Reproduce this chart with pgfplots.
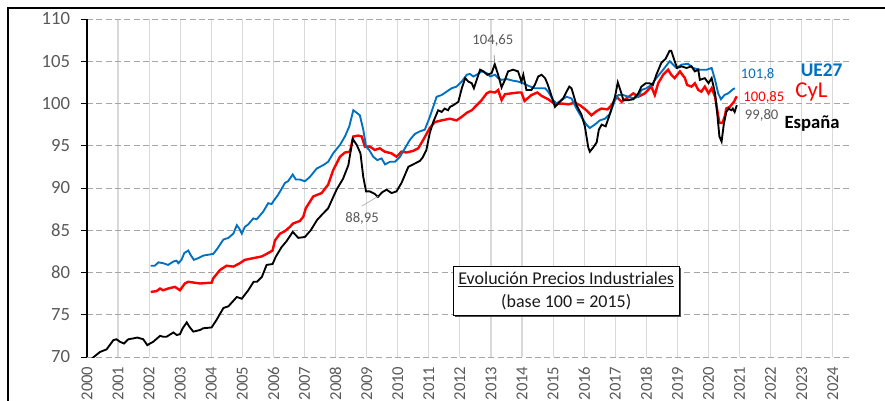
\documentclass[border=0pt]{standalone}
\usepackage{fontspec}
\setmainfont{Carlito}
\usepackage{pgfplots}
\pgfplotsset{compat=1.18}
\usetikzlibrary{shadows}
\definecolor{ueblue}{HTML}{0070C0}
\definecolor{cylred}{HTML}{FF0000}
\definecolor{txtgrey}{HTML}{595959}
\definecolor{gridgrey}{HTML}{A6A6A6}
\definecolor{vgrid}{HTML}{D9D9D9}
\begin{document}
\begin{tikzpicture}
\useasboundingbox (0,0) rectangle (663.75pt,300pt);
\draw[black, line width=0.9pt] (6pt,294pt) rectangle (700pt,-20pt);
\begin{axis}[
  at={(65.25pt,32.25pt)}, anchor=south west,
  width=571.5pt, height=253.5pt, scale only axis,
  xmin=2000, xmax=2024.52, ymin=70, ymax=110,
  xtick={2000,...,2024}, ytick={70,75,...,110},
  axis y line*=left, axis x line*=bottom,
  x axis line style={draw=none},
  y axis line style={black, line width=0.8pt},
  ymajorgrids, xmajorgrids,
  y grid style={gridgrey, dash pattern=on 4.5pt off 2.5pt, line width=0.75pt},
  x grid style={vgrid, line width=0.9pt},
  ytick style={black, line width=0.75pt},
  xtick style={draw=none},
  tick align=outside, major tick length=4.5pt,
  ticklabel style={text=txtgrey},
  /pgf/number format/assume math mode=true,
  /pgf/number format/1000 sep={},
  xticklabel style={font=\fontsize{12.5}{15}\selectfont, rotate=90, anchor=east, inner sep=0pt},
  yticklabel style={font=\fontsize{14}{16}\selectfont, anchor=east, inner sep=0pt, xshift=-8pt},
  xticklabel shift=2.5pt,
]
% CyL
\addplot[cylred, line width=1.8pt] coordinates {
(2002.05,77.7)(2002.24,77.8)(2002.35,78.1)(2002.45,77.9)(2002.61,78.1)(2002.83,78.3)(2002.99,77.9)
(2003.15,78.7)(2003.26,78.9)(2003.64,78.7)(2004.01,78.8)(2004.06,79.3)(2004.28,80.3)(2004.49,80.8)
(2004.71,80.7)(2004.92,81.1)(2005.08,81.5)(2005.35,81.7)(2005.62,81.9)(2005.78,82.2)(2005.97,82.6)
(2006.05,83.8)(2006.21,84.6)(2006.37,84.9)(2006.53,85.4)(2006.63,85.8)(2006.85,86.1)(2006.96,86.6)
(2007.04,87.6)(2007.28,89.0)(2007.55,89.4)(2007.76,90.4)(2007.92,92.1)(2008.14,93.7)(2008.30,94.2)
(2008.46,94.3)(2008.57,96.1)(2008.73,96.2)(2008.84,96.1)(2008.94,94.9)(2009.10,94.9)(2009.26,94.5)
(2009.42,94.7)(2009.58,94.3)(2009.80,94.1)(2009.96,93.7)(2010.12,94.3)(2010.28,94.2)(2010.50,94.4)
(2010.66,94.7)(2010.82,95.7)(2011.03,97.1)(2011.19,97.8)(2011.41,98.0)(2011.68,98.2)(2011.89,98.0)
(2012.05,98.4)(2012.22,98.9)(2012.38,99.2)(2012.54,99.8)(2012.70,100.4)(2012.86,101.2)(2012.97,101.4)
(2013.13,101.3)(2013.23,101.6)(2013.34,100.4)(2013.45,101.1)(2013.66,101.2)(2013.87,101.3)(2013.98,101.3)
(2014.08,100.3)(2014.30,101.0)(2014.49,101.3)(2014.63,100.9)(2014.84,100.5)(2015.06,99.9)(2015.27,100.0)
(2015.49,99.9)(2015.70,100.1)(2015.86,99.8)(2016.07,99.2)(2016.23,98.6)(2016.40,99.1)(2016.55,99.4)
(2016.75,99.3)(2016.90,99.9)(2017.04,100.8)(2017.20,100.2)(2017.36,100.6)(2017.58,101.2)(2017.74,100.8)
(2017.95,101.2)(2018.16,102.0)(2018.27,101.0)(2018.38,102.4)(2018.54,103.4)(2018.70,104.0)(2018.80,103.4)
(2018.91,103.0)(2019.08,103.8)(2019.24,103.0)(2019.31,102.2)(2019.45,102.0)(2019.56,102.4)(2019.67,101.6)
(2019.77,101.4)(2019.88,102.0)(2020.00,101.2)(2020.10,101.8)(2020.21,100.8)(2020.28,99.2)(2020.35,97.7)
(2020.45,97.7)(2020.53,98.6)(2020.57,99.4)(2020.68,99.6)(2020.77,100.0)(2020.82,100.2)(2020.87,100.6)
(2020.91,100.85)
};
% UE27
\addplot[ueblue, line width=1.4pt] coordinates {
(2002.05,80.8)(2002.18,80.8)(2002.30,81.2)(2002.45,81.1)(2002.61,80.9)(2002.78,81.3)(2002.88,81.4)
(2002.94,81.1)(2003.04,81.5)(2003.13,82.3)(2003.26,82.6)(2003.33,82.1)(2003.44,81.5)(2003.58,81.7)
(2003.74,82.0)(2003.90,82.1)(2004.06,82.2)(2004.17,82.7)(2004.39,83.9)(2004.55,84.1)(2004.71,84.6)
(2004.82,85.6)(2004.90,85.2)(2004.98,84.6)(2005.08,85.4)(2005.19,85.7)(2005.35,86.4)(2005.46,86.3)
(2005.67,87.2)(2005.83,88.2)(2005.94,88.1)(2006.01,88.5)(2006.15,89.2)(2006.37,90.6)(2006.47,90.8)
(2006.62,91.6)(2006.72,91.0)(2006.85,91.0)(2007.01,90.8)(2007.17,91.3)(2007.39,92.3)(2007.60,92.7)
(2007.76,93.1)(2007.92,94.1)(2008.14,95.1)(2008.30,96.1)(2008.44,97.3)(2008.57,99.2)(2008.68,98.9)
(2008.78,98.6)(2008.89,96.9)(2008.98,94.9)(2009.08,94.5)(2009.21,93.7)(2009.34,93.3)(2009.48,93.5)
(2009.59,92.8)(2009.75,93.1)(2009.91,93.1)(2010.07,93.7)(2010.23,94.7)(2010.39,95.7)(2010.55,96.4)
(2010.71,96.7)(2010.87,96.9)(2011.03,98.4)(2011.25,100.8)(2011.41,101.0)(2011.57,101.4)(2011.73,101.8)
(2011.89,102.0)(2012.06,102.6)(2012.22,103.4)(2012.32,103.5)(2012.43,103.2)(2012.54,103.4)(2012.70,103.8)
(2012.86,103.6)(2012.97,103.2)(2013.13,103.4)(2013.23,103.0)(2013.34,102.8)(2013.50,102.9)(2013.71,102.7)
(2013.87,102.6)(2014.03,102.4)(2014.20,102.1)(2014.41,101.8)(2014.74,101.8)(2014.84,101.4)(2015.00,100.4)
(2015.11,100.0)(2015.27,100.4)(2015.43,100.8)(2015.59,100.6)(2015.75,99.4)(2015.91,98.4)(2016.07,97.5)
(2016.18,97.1)(2016.34,97.5)(2016.50,98.0)(2016.67,98.2)(2016.83,98.8)(2016.99,100.4)(2017.10,101.0)
(2017.26,101.0)(2017.42,100.8)(2017.58,100.6)(2017.74,100.8)(2017.84,101.6)(2018.00,101.8)(2018.16,102.2)
(2018.32,103.0)(2018.54,104.0)(2018.75,105.0)(2018.86,104.6)(2018.97,104.2)(2019.13,104.6)(2019.34,104.7)
(2019.50,104.2)(2019.72,104.0)(2019.94,104.0)(2020.10,104.2)(2020.21,102.8)(2020.31,101.2)(2020.40,100.5)
(2020.51,101.0)(2020.63,101.2)(2020.79,101.7)(2020.85,101.8)
};
% Espana
\addplot[black, line width=1.4pt] coordinates {
(2000.00,69.3)(2000.15,69.8)(2000.42,70.6)(2000.63,70.9)(2000.85,72.0)(2000.95,72.1)(2001.06,71.8)
(2001.19,71.6)(2001.33,72.1)(2001.49,72.2)(2001.62,72.3)(2001.81,72.1)(2001.94,71.4)(2002.03,71.6)
(2002.13,71.8)(2002.35,72.5)(2002.45,72.4)(2002.56,72.4)(2002.78,72.9)(2002.89,72.6)(2002.99,72.7)
(2003.08,73.4)(2003.21,74.1)(2003.29,73.6)(2003.42,73.0)(2003.64,73.2)(2003.74,73.4)(2004.01,73.5)
(2004.17,74.4)(2004.39,75.8)(2004.55,76.0)(2004.82,77.1)(2004.98,76.9)(2005.19,77.9)(2005.36,78.9)
(2005.47,78.9)(2005.63,79.5)(2005.78,80.9)(2005.97,81.0)(2006.08,81.9)(2006.26,83.0)(2006.42,83.7)
(2006.62,84.8)(2006.80,84.1)(2007.01,84.2)(2007.20,85.0)(2007.40,86.2)(2007.55,86.8)(2007.76,87.6)
(2008.03,89.8)(2008.24,91.1)(2008.41,92.7)(2008.55,95.8)(2008.68,95.1)(2008.80,94.1)(2008.89,91.3)
(2008.98,89.6)(2009.10,89.6)(2009.26,89.3)(2009.36,88.95)(2009.50,89.5)(2009.64,89.8)(2009.80,89.4)
(2009.96,89.6)(2010.12,90.6)(2010.34,92.5)(2010.55,92.9)(2010.71,93.2)(2010.80,93.6)(2010.92,94.5)
(2011.03,96.5)(2011.14,97.8)(2011.30,99.2)(2011.41,99.0)(2011.51,99.4)(2011.62,99.2)(2011.68,99.6)
(2011.79,99.8)(2011.95,100.2)(2012.06,101.8)(2012.17,103.0)(2012.27,102.6)(2012.38,102.4)(2012.45,101.8)
(2012.54,102.8)(2012.65,104.0)(2012.76,103.8)(2012.88,103.4)(2013.02,103.6)(2013.12,104.65)(2013.23,103.4)
(2013.34,101.9)(2013.45,102.8)(2013.55,103.8)(2013.71,104.0)(2013.87,103.8)(2013.98,102.6)(2014.04,103.4)
(2014.14,101.6)(2014.30,101.6)(2014.41,102.2)(2014.52,103.2)(2014.63,103.4)(2014.74,103.0)(2014.81,102.4)
(2014.92,101.2)(2015.06,99.6)(2015.16,100.0)(2015.32,100.6)(2015.43,101.4)(2015.52,102.0)(2015.59,101.8)
(2015.64,101.2)(2015.75,99.8)(2015.91,98.7)(2016.02,97.3)(2016.13,94.8)(2016.18,94.3)(2016.29,94.8)
(2016.40,95.4)(2016.47,96.9)(2016.56,97.5)(2016.69,97.3)(2016.83,98.8)(2016.99,100.8)(2017.08,102.5)
(2017.18,101.4)(2017.26,100.4)(2017.42,100.4)(2017.58,100.5)(2017.74,101.2)(2017.84,102.0)(2017.98,102.4)
(2018.10,102.4)(2018.21,102.2)(2018.32,103.4)(2018.48,104.8)(2018.62,105.3)(2018.75,106.25)(2018.80,106.25)
(2018.91,105.0)(2018.99,104.2)(2019.13,104.4)(2019.29,104.2)(2019.45,104.4)(2019.56,103.8)(2019.67,104.0)
(2019.72,102.8)(2019.88,103.0)(2020.00,102.4)(2020.10,103.0)(2020.21,101.2)(2020.28,98.8)(2020.35,96.1)
(2020.42,95.5)(2020.49,97.5)(2020.57,99.0)(2020.65,99.4)(2020.73,99.2)(2020.78,99.4)(2020.84,99.0)
(2020.91,99.8)
};
\draw[txtgrey!70, line width=0.5pt] (axis cs:2013.10,105.74) -- (axis cs:2013.12,104.8);
\draw[txtgrey!50, line width=0.5pt] (axis cs:2008.85,87.87) -- (axis cs:2009.36,89.0);
\node[font=\fontsize{11}{13}\selectfont, text=txtgrey] at (axis cs:2013.06,107.40) {104,65};
\node[font=\fontsize{11}{13}\selectfont, text=txtgrey] at (axis cs:2008.85,86.45) {88,95};
\node[font=\fontsize{11}{13}\selectfont, text=ueblue] at (axis cs:2021.58,103.49) {101,8};
\node[font=\bfseries\fontsize{14.5}{17}\selectfont, text=ueblue] at (axis cs:2023.64,103.96) {UE27};
\node[font=\fontsize{11}{13}\selectfont, text=cylred] at (axis cs:2021.78,100.73) {100,85};
\node[font=\fontsize{17}{20}\selectfont, text=cylred] at (axis cs:2023.31,101.40) {CyL};
\node[font=\fontsize{11}{13}\selectfont, text=txtgrey] at (axis cs:2021.71,98.64) {99,80};
\node[font=\bfseries\fontsize{14}{17}\selectfont, text=black] at (axis cs:2023.33,97.66) {España};
\node[draw=black, line width=0.8pt, fill=white, drop shadow={shadow xshift=1.2pt, shadow yshift=-1.2pt, fill=black!70, opacity=1},
  minimum width=169.5pt, minimum height=36.8pt, align=center, inner sep=2pt,
  font=\fontsize{13.5}{17.5}\selectfont, text=black!90] at (axis cs:2015.42,77.78)
  {\underline{Evolución Precios Industriales}\\(base 100 = 2015)};
\end{axis}
\end{tikzpicture}
\end{document}
